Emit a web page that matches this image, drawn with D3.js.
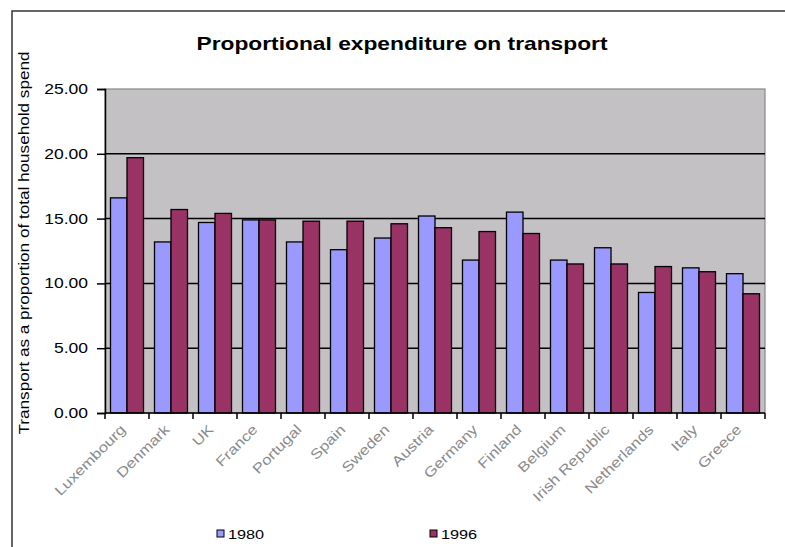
<!DOCTYPE html>
<html lang="en">
<head>
    <meta charset="UTF-8">
    <title>Proportional expenditure on transport</title>
    <script src="https://d3js.org/d3.v7.min.js"></script>
    <style>
        body { margin: 0; background: #fff; }
        svg { display: block; font-family: "Liberation Sans", Arial, sans-serif; }
    </style>
</head>
<body>
    <svg width="785" height="547"></svg>

    <script>
        // Data
        const categories = ["Luxembourg", "Denmark", "UK", "France", "Portugal", "Spain", "Sweden",
            "Austria", "Germany", "Finland", "Belgium", "Irish Republic", "Netherlands", "Italy", "Greece"];
        const series = ["1980", "1996"];
        const values1980 = [16.6, 13.2, 14.7, 14.9, 13.2, 12.6, 13.5, 15.2, 11.8, 15.5, 11.8, 12.75, 9.3, 11.2, 10.75];
        const values1996 = [19.7, 15.7, 15.4, 14.9, 14.8, 14.8, 14.6, 14.3, 14.0, 13.85, 11.5, 11.5, 11.3, 10.9, 9.2];
        const yTicks = [0, 5, 10, 15, 20, 25];
        const colors = ["#9999ff", "#993366"];

        const svg = d3.select("svg");
        const plotLeft = 105, plotRight = 765, plotTop = 89, plotBottom = 413;

        // outer chart frame (cut at right and bottom)
        svg.append("path")
            .attr("d", `M12,547 L12,11 L785,11`)
            .attr("fill", "none")
            .attr("stroke", "#333")
            .attr("stroke-width", 1.5);

        const x0 = d3.scaleBand().domain(categories).range([plotLeft, plotRight]);
        const x1 = d3.scaleBand().domain(series).range([0, x0.bandwidth()]).paddingOuter(1 / 3);
        const y = d3.scaleLinear().domain([0, 25]).range([plotBottom, plotTop]);

        // stretch text horizontally, the source looks widened
        function stretch(sel, k) {
            sel.each(function () {
                const w = this.getComputedTextLength();
                d3.select(this).attr("textLength", w * k).attr("lengthAdjust", "spacingAndGlyphs");
            });
        }

        // plot area
        svg.append("rect")
            .attr("x", plotLeft).attr("y", plotTop)
            .attr("width", plotRight - plotLeft).attr("height", plotBottom - plotTop)
            .attr("fill", "#c3c1c3")
            .attr("stroke", "#888")
            .attr("stroke-width", 1.2);

        // gridlines
        svg.append("g")
            .selectAll("line")
            .data(yTicks.filter(d => d > 0 && d < 25))
            .enter().append("line")
            .attr("x1", plotLeft).attr("x2", plotRight)
            .attr("y1", d => y(d)).attr("y2", d => y(d))
            .attr("stroke", "#000")
            .attr("stroke-width", 1.5);

        // bars
        const rows = categories.map((c, i) => ({ cat: c, vals: [values1980[i], values1996[i]] }));
        svg.append("g")
            .selectAll("g")
            .data(rows)
            .enter().append("g")
            .attr("transform", d => `translate(${x0(d.cat)},0)`)
            .selectAll("rect")
            .data(d => d.vals.map((v, j) => ({ key: series[j], v: v, j: j })))
            .enter().append("rect")
            .attr("x", d => x1(d.key))
            .attr("width", x1.bandwidth())
            .attr("y", d => y(d.v))
            .attr("height", d => plotBottom - y(d.v))
            .attr("fill", d => colors[d.j])
            .attr("stroke", "#000")
            .attr("stroke-width", 1.3);

        // y axis
        const yAxis = svg.append("g")
            .attr("transform", `translate(${plotLeft},0)`)
            .call(d3.axisLeft(y).tickValues(yTicks).tickFormat(d3.format(".2f")).tickSize(8).tickPadding(9));
        yAxis.select(".domain").attr("stroke", "#000").attr("stroke-width", 1.5);
        yAxis.selectAll(".tick line").attr("stroke", "#000").attr("stroke-width", 1.5);
        yAxis.selectAll(".tick text")
            .attr("font-size", 14)
            .attr("font-family", "Liberation Sans, Arial, sans-serif")
            .attr("fill", "#000")
            .call(stretch, 1.25);

        // x axis
        svg.append("line")
            .attr("x1", plotLeft).attr("x2", plotRight)
            .attr("y1", plotBottom).attr("y2", plotBottom)
            .attr("stroke", "#000").attr("stroke-width", 1.5);
        svg.append("g")
            .selectAll("line")
            .data(categories.concat(["end"]))
            .enter().append("line")
            .attr("x1", d => d === "end" ? plotRight : x0(d))
            .attr("x2", d => d === "end" ? plotRight : x0(d))
            .attr("y1", plotBottom).attr("y2", plotBottom + 6)
            .attr("stroke", "#000").attr("stroke-width", 1.5);

        svg.append("g")
            .selectAll("text")
            .data(categories)
            .enter().append("text")
            .attr("transform", d => `translate(${x0(d) + x0.bandwidth() / 2 - 4},${plotBottom + 14}) rotate(-45)`)
            .attr("text-anchor", "end")
            .attr("dy", "0.35em")
            .attr("font-size", 14)
            .attr("fill", "#8a8a8a")
            .text(d => d)
            .call(stretch, 1.2);

        // title
        svg.append("text")
            .attr("x", 402).attr("y", 50)
            .attr("text-anchor", "middle")
            .attr("font-size", 19)
            .attr("font-weight", "bold")
            .attr("textLength", 411)
            .attr("lengthAdjust", "spacingAndGlyphs")
            .text("Proportional expenditure on transport");

        // y title
        svg.append("text")
            .attr("transform", "translate(29,243) rotate(-90)")
            .attr("text-anchor", "middle")
            .attr("font-size", 15)
            .attr("textLength", 383)
            .attr("lengthAdjust", "spacingAndGlyphs")
            .text("Transport as a proportion of total household spend");

        // legend
        const legendX = [217, 430];
        const legend = svg.append("g")
            .selectAll("g")
            .data(series)
            .enter().append("g")
            .attr("transform", (d, i) => `translate(${legendX[i]},530)`);
        legend.append("rect")
            .attr("width", 7).attr("height", 7)
            .attr("fill", (d, i) => colors[i])
            .attr("stroke", "#000").attr("stroke-width", 1);
        legend.append("text")
            .attr("x", 11).attr("y", 4)
            .attr("dy", "0.35em")
            .attr("font-size", 13)
            .text(d => d)
            .call(stretch, 1.25);
    </script>
</body>
</html>
